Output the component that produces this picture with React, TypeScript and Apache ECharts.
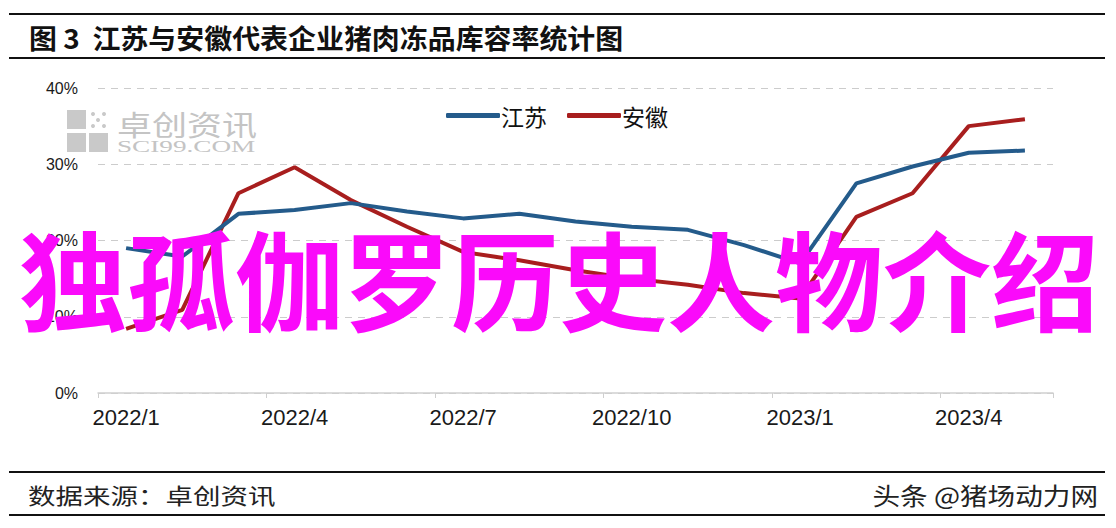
import React, { useEffect, useRef } from "react";
import * as echarts from "echarts";

const months = [
  "2022/1", "2022/2", "2022/3", "2022/4", "2022/5", "2022/6", "2022/7", "2022/8", "2022/9",
  "2022/10", "2022/11", "2022/12", "2023/1", "2023/2", "2023/3", "2023/4", "2023/5",
];
const jiangsu = [19.0, 17.9, 23.5, 24.0, 24.9, 23.8, 22.9, 23.5, 22.5, 21.8, 21.4, 19.4, 17.0, 27.5, 29.7, 31.5, 31.8];
const anhui = [8.4, 10.9, 26.2, 29.6, 25.3, 21.8, 18.5, 17.4, 16.1, 15.0, 14.2, 13.1, 12.4, 23.1, 26.2, 35.0, 35.9];
const seriesNames = ["江苏", "安徽"];
const titleText = "图 3  江苏与安徽代表企业猪肉冻品库容率统计图";
const sourceText = "数据来源：卓创资讯";
const creditText = "头条 @猪场动力网";
const overlayText = "独孤伽罗历史人物介绍";
const wmName = "卓创资讯";
const wmSite = "SCI99.COM";

export default function App() {
  const ref = useRef<HTMLDivElement>(null);
  useEffect(() => {
    if (!ref.current) return;
    const chart = echarts.init(ref.current, null, { renderer: "svg" });
    const cjk = "'Noto Sans CJK SC', sans-serif";
    const gray = "#c9c9c9";
    chart.setOption({
      animation: false,
      backgroundColor: "#ffffff",
      grid: { left: 98, right: 63, top: 88, bottom: 135 },
      legend: {
        data: seriesNames,
        left: 441,
        top: 99,
        icon: "roundRect",
        itemWidth: 54,
        itemHeight: 5,
        itemGap: 20,
        textStyle: { fontSize: 23, color: "#111", fontFamily: cjk, padding: [0, 0, 0, -4] },
      },
      xAxis: {
        type: "category",
        data: months,
        boundaryGap: true,
        axisLine: { lineStyle: { color: "#cfcfcf", width: 1.5 } },
        axisTick: { show: true, interval: 2, length: 5, lineStyle: { color: "#cfcfcf" } },
        axisLabel: {
          interval: 2,
          margin: 13,
          fontSize: 22,
          color: "#1a1a1a",
          fontFamily: "'Liberation Sans', sans-serif",
        },
      },
      yAxis: {
        type: "value",
        min: 0,
        max: 40,
        interval: 10,
        axisLine: { show: false },
        axisTick: { show: false },
        axisLabel: {
          formatter: "{value}%",
          fontSize: 16,
          color: "#1a1a1a",
          margin: 20,
          fontFamily: "'Liberation Sans', sans-serif",
        },
        splitLine: { lineStyle: { color: "#cccccc", type: [7, 6], width: 1.2 } },
      },
      series: [
        {
          name: seriesNames[0],
          type: "line",
          data: jiangsu,
          showSymbol: false,
          symbol: "none",
          lineStyle: { color: "#245b8b", width: 4 },
          itemStyle: { color: "#245b8b" },
          z: 3,
        },
        {
          name: seriesNames[1],
          type: "line",
          data: anhui,
          showSymbol: false,
          symbol: "none",
          lineStyle: { color: "#a81e1e", width: 4 },
          itemStyle: { color: "#a81e1e" },
          z: 2,
        },
      ],
      graphic: [
        { type: "line", shape: { x1: 9, y1: 14, x2: 1105, y2: 14 }, style: { stroke: "#111", lineWidth: 2 } },
        { type: "line", shape: { x1: 9, y1: 58, x2: 1105, y2: 58 }, style: { stroke: "#111", lineWidth: 2 } },
        {
          type: "text",
          x: 29,
          y: 37,
          scaleX: 1.035,
          style: {
            text: titleText,
            fontSize: 27,
            fontWeight: "bold",
            fontFamily: cjk,
            fill: "#111",
            textAlign: "left",
            textVerticalAlign: "middle",
          },
        },
        { type: "line", shape: { x1: 9, y1: 472, x2: 1105, y2: 472 }, style: { stroke: "#111", lineWidth: 2 } },
        { type: "line", shape: { x1: 9, y1: 515, x2: 1105, y2: 515 }, style: { stroke: "#111", lineWidth: 2 } },
        {
          type: "text",
          x: 28,
          y: 494,
          scaleX: 1.25,
          style: {
            text: sourceText,
            fontSize: 22,
            fontFamily: cjk,
            fill: "#222",
            textAlign: "left",
            textVerticalAlign: "middle",
          },
        },
        {
          type: "text",
          x: 1098,
          y: 494,
          scaleX: 1.15,
          style: {
            text: creditText,
            fontSize: 24,
            fontFamily: cjk,
            fill: "#222",
            textAlign: "right",
            textVerticalAlign: "middle",
          },
        },
        // watermark
        { type: "rect", shape: { x: 67, y: 110, width: 19, height: 19 }, style: { fill: gray } },
        { type: "rect", shape: { x: 67, y: 133, width: 19, height: 19 }, style: { fill: gray } },
        { type: "rect", shape: { x: 89, y: 133, width: 19, height: 19 }, style: { fill: gray } },
        { type: "circle", shape: { cx: 93, cy: 114, r: 2 }, style: { fill: gray } },
        { type: "circle", shape: { cx: 104, cy: 114, r: 2 }, style: { fill: gray } },
        { type: "circle", shape: { cx: 98, cy: 120, r: 2 }, style: { fill: gray } },
        { type: "circle", shape: { cx: 93, cy: 126, r: 2 }, style: { fill: gray } },
        { type: "circle", shape: { cx: 104, cy: 126, r: 2 }, style: { fill: gray } },
        {
          type: "text",
          x: 117,
          y: 124,
          scaleX: 1.25,
          style: {
            text: wmName,
            fontSize: 28,
            fontFamily: cjk,
            fill: "#c4c4c4",
            textAlign: "left",
            textVerticalAlign: "middle",
          },
        },
        {
          type: "text",
          x: 117,
          y: 146,
          scaleX: 1.6,
          style: {
            text: wmSite,
            fontSize: 17,
            fontFamily: "'Liberation Serif', serif",
            fill: "#c4c4c4",
            textAlign: "left",
            textVerticalAlign: "middle",
          },
        },
        {
          type: "text",
          x: 559,
          y: 276,
          z: 100,
          style: {
            text: overlayText,
            fontSize: 108,
            fontWeight: "bold",
            fontFamily: cjk,
            fill: "#fa0afa",
            textAlign: "center",
            textVerticalAlign: "middle",
          },
        },
      ],
    });
    return () => chart.dispose();
  }, []);
  return (
    <div
      ref={ref}
      style={{ position: "fixed", left: 0, top: 0, width: 1116, height: 528 }}
    />
  );
}
